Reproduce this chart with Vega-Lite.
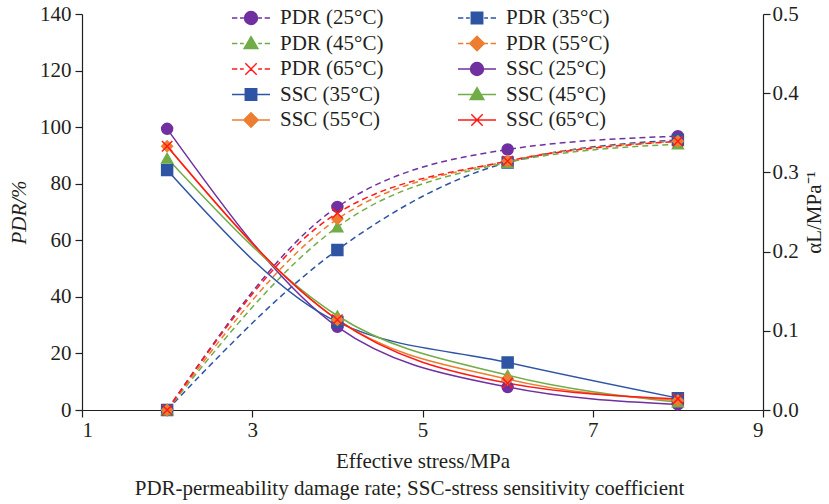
{
  "$schema": "https://vega.github.io/schema/vega-lite/v6.json",
  "width": 681,
  "height": 396,
  "autosize": "none",
  "padding": {"left": 82, "top": 14, "right": 66, "bottom": 94},
  "background": "white",
  "title": {
    "text": "PDR-permeability damage rate; SSC-stress sensitivity coefficient",
    "orient": "bottom",
    "anchor": "middle",
    "font": "Liberation Serif",
    "fontSize": 21,
    "fontWeight": "normal",
    "color": "#231f20",
    "offset": 7,
    "dx": -13
  },
  "config": {
    "font": "Liberation Serif",
    "view": {"stroke": null},
    "axis": {
      "grid": false,
      "domainColor": "#231f20",
      "tickColor": "#231f20",
      "labelColor": "#231f20",
      "titleColor": "#231f20",
      "labelFont": "Liberation Serif",
      "titleFont": "Liberation Serif",
      "labelFontSize": 21,
      "titleFontSize": 21,
      "titleFontWeight": "normal",
      "tickSize": 7,
      "tickWidth": 1.2,
      "domainWidth": 1.2
    }
  },
  "data": {
    "values": [
      {"s": 2, "metric": "PDR", "t": "25", "series": "PDR (25°C)", "v": 0},
      {"s": 4, "metric": "PDR", "t": "25", "series": "PDR (25°C)", "v": 71.8},
      {"s": 6, "metric": "PDR", "t": "25", "series": "PDR (25°C)", "v": 92.1},
      {"s": 8, "metric": "PDR", "t": "25", "series": "PDR (25°C)", "v": 96.8},
      {"s": 2, "metric": "PDR", "t": "35", "series": "PDR (35°C)", "v": 0},
      {"s": 4, "metric": "PDR", "t": "35", "series": "PDR (35°C)", "v": 56.6},
      {"s": 6, "metric": "PDR", "t": "35", "series": "PDR (35°C)", "v": 87.5},
      {"s": 8, "metric": "PDR", "t": "35", "series": "PDR (35°C)", "v": 95.5},
      {"s": 2, "metric": "PDR", "t": "45", "series": "PDR (45°C)", "v": 0},
      {"s": 4, "metric": "PDR", "t": "45", "series": "PDR (45°C)", "v": 64.7},
      {"s": 6, "metric": "PDR", "t": "45", "series": "PDR (45°C)", "v": 87.5},
      {"s": 8, "metric": "PDR", "t": "45", "series": "PDR (45°C)", "v": 94},
      {"s": 2, "metric": "PDR", "t": "55", "series": "PDR (55°C)", "v": 0},
      {"s": 4, "metric": "PDR", "t": "55", "series": "PDR (55°C)", "v": 67.5},
      {"s": 6, "metric": "PDR", "t": "55", "series": "PDR (55°C)", "v": 88},
      {"s": 8, "metric": "PDR", "t": "55", "series": "PDR (55°C)", "v": 95},
      {"s": 2, "metric": "PDR", "t": "65", "series": "PDR (65°C)", "v": 0},
      {"s": 4, "metric": "PDR", "t": "65", "series": "PDR (65°C)", "v": 69.6},
      {"s": 6, "metric": "PDR", "t": "65", "series": "PDR (65°C)", "v": 88},
      {"s": 8, "metric": "PDR", "t": "65", "series": "PDR (65°C)", "v": 95},
      {"s": 2, "metric": "SSC", "t": "25", "series": "SSC (25°C)", "v": 0.355},
      {"s": 4, "metric": "SSC", "t": "25", "series": "SSC (25°C)", "v": 0.105},
      {"s": 6, "metric": "SSC", "t": "25", "series": "SSC (25°C)", "v": 0.029},
      {"s": 8, "metric": "SSC", "t": "25", "series": "SSC (25°C)", "v": 0.007},
      {"s": 2, "metric": "SSC", "t": "35", "series": "SSC (35°C)", "v": 0.303},
      {"s": 4, "metric": "SSC", "t": "35", "series": "SSC (35°C)", "v": 0.111},
      {"s": 6, "metric": "SSC", "t": "35", "series": "SSC (35°C)", "v": 0.06},
      {"s": 8, "metric": "SSC", "t": "35", "series": "SSC (35°C)", "v": 0.015},
      {"s": 2, "metric": "SSC", "t": "45", "series": "SSC (45°C)", "v": 0.318},
      {"s": 4, "metric": "SSC", "t": "45", "series": "SSC (45°C)", "v": 0.119},
      {"s": 6, "metric": "SSC", "t": "45", "series": "SSC (45°C)", "v": 0.044},
      {"s": 8, "metric": "SSC", "t": "45", "series": "SSC (45°C)", "v": 0.01},
      {"s": 2, "metric": "SSC", "t": "55", "series": "SSC (55°C)", "v": 0.333},
      {"s": 4, "metric": "SSC", "t": "55", "series": "SSC (55°C)", "v": 0.114},
      {"s": 6, "metric": "SSC", "t": "55", "series": "SSC (55°C)", "v": 0.039},
      {"s": 8, "metric": "SSC", "t": "55", "series": "SSC (55°C)", "v": 0.012},
      {"s": 2, "metric": "SSC", "t": "65", "series": "SSC (65°C)", "v": 0.333},
      {"s": 4, "metric": "SSC", "t": "65", "series": "SSC (65°C)", "v": 0.114},
      {"s": 6, "metric": "SSC", "t": "65", "series": "SSC (65°C)", "v": 0.034},
      {"s": 8, "metric": "SSC", "t": "65", "series": "SSC (65°C)", "v": 0.014}
    ]
  },
  "encoding": {
    "x": {
      "field": "s",
      "type": "quantitative",
      "scale": {"domain": [1, 9], "nice": false, "zero": false},
      "axis": {"values": [1, 3, 5, 7, 9], "title": "Effective stress/MPa", "labelPadding": 2, "titlePadding": 10}
    },
    "color": {
      "field": "series",
      "type": "nominal",
      "scale": {
        "domain": ["PDR (25°C)", "PDR (45°C)", "PDR (65°C)", "SSC (35°C)", "SSC (55°C)", "PDR (35°C)", "PDR (55°C)", "SSC (25°C)", "SSC (45°C)", "SSC (65°C)"],
        "range": ["#7030a0", "#70ad47", "#ff1a1a", "#2e54a4", "#ed7d31", "#2e54a4", "#ed7d31", "#7030a0", "#70ad47", "#ff1a1a"]
      },
      "legend": {
        "title": null,
        "orient": "none",
        "legendX": 149,
        "legendY": -6,
        "columns": 2,
        "padding": 0,
        "columnPadding": 73,
        "rowPadding": 4.5,
        "clipHeight": 20,
        "symbolSize": 1444,
        "symbolStrokeWidth": 1.5,
        "labelOffset": 9,
        "labelFont": "Liberation Serif",
        "labelFontSize": 21,
        "labelColor": "#231f20",
        "labelLimit": 300,
        "encode": {
          "symbols": {
            "update": {
              "shape": {"signal": "(slice(datum.value,0,3)=='PDR' ? 'M-1,0H-0.72M-0.58,0H-0.38M0.38,0H0.58M0.72,0H1' : 'M-1,0H1') + (indexof(datum.value,'25')>0 ? 'M-0.34,0A0.34,0.34 0 1,0 0.34,0A0.34,0.34 0 1,0 -0.34,0Z' : indexof(datum.value,'35')>0 ? 'M-0.3,-0.3H0.3V0.3H-0.3Z' : indexof(datum.value,'45')>0 ? 'M0,-0.36L0.36,0.26H-0.36Z' : indexof(datum.value,'55')>0 ? 'M0,-0.38L0.38,0L0,0.38L-0.38,0Z' : 'M-0.3,-0.3L0.3,0.3M-0.3,0.3L0.3,-0.3')"},
              "fill": {"signal": "scale('color', datum.value)"},
              "stroke": {"signal": "scale('color', datum.value)"},
              "strokeWidth": {"value": 1.5},
              "opacity": {"value": 1}
            }
          }
        }
      }
    }
  },
  "resolve": {"scale": {"y": "independent"}},
  "layer": [
    {
      "transform": [{"filter": "datum.metric == 'PDR'"}],
      "encoding": {
        "y": {
          "field": "v",
          "type": "quantitative",
          "scale": {"domain": [0, 140], "nice": false},
          "axis": {"orient": "left", "values": [0, 20, 40, 60, 80, 100, 120, 140], "title": "PDR/%", "titleFontStyle": "italic", "labelPadding": 4, "titlePadding": 10}
        }
      },
      "layer": [
        {"mark": {"type": "line", "interpolate": "monotone", "strokeDash": [6, 4], "strokeWidth": 1.5}},
        {
          "mark": {"type": "point", "filled": true, "size": 120, "strokeWidth": 1.5, "opacity": 1},
          "encoding": {
            "shape": {
              "field": "t",
              "type": "nominal",
              "legend": null,
              "scale": {
                "domain": ["25", "35", "45", "55", "65"],
                "range": ["circle", "square", "triangle-up", "diamond", "M-0.95,-0.95L0.95,0.95M-0.95,0.95L0.95,-0.95"]
              }
            },
            "stroke": {
              "field": "t",
              "type": "nominal",
              "legend": null,
              "scale": {
                "domain": ["25", "35", "45", "55", "65"],
                "range": ["#7030a0", "#2e54a4", "#70ad47", "#ed7d31", "#ff1a1a"]
              }
            }
          }
        }
      ]
    },
    {
      "transform": [{"filter": "datum.metric == 'SSC'"}],
      "encoding": {
        "y": {
          "field": "v",
          "type": "quantitative",
          "scale": {"domain": [0, 0.5], "nice": false},
          "axis": {"orient": "right", "values": [0, 0.1, 0.2, 0.3, 0.4, 0.5], "format": ".1f", "title": "αL/MPa⁻¹", "titleAngle": 270, "titleBaseline": "top", "labelPadding": 2, "titlePadding": 5}
        }
      },
      "layer": [
        {"mark": {"type": "line", "interpolate": "monotone", "strokeWidth": 1.5}},
        {
          "mark": {"type": "point", "filled": true, "size": 120, "strokeWidth": 1.5, "opacity": 1},
          "encoding": {
            "shape": {"field": "t", "type": "nominal", "legend": null},
            "stroke": {"field": "t", "type": "nominal", "legend": null}
          }
        }
      ]
    }
  ]
}
